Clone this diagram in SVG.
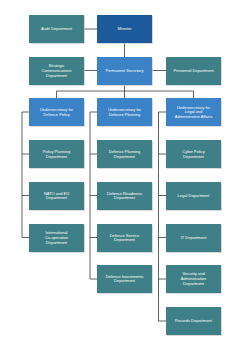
<svg xmlns="http://www.w3.org/2000/svg" width="250" height="354" viewBox="0 0 250 354">
<defs>
<style>
.b rect.s{fill:#c9c9c9;opacity:0.7}
.teal rect.m{fill:#3f7f87}
.dark rect.m{fill:#1d5a9c}
.blue rect.m{fill:#3b82c6}
text{font-family:"Liberation Sans",Arial,sans-serif;font-size:4px;fill:#ffffff;text-anchor:middle}
.c{fill:none;stroke:#3a3a3a;stroke-width:0.8}
</style>
</defs>
<rect width="250" height="354" fill="#ffffff"/>
<g id="connectors" class="c">
<path d="M84 29H97"/>
<path d="M124.5 43V57"/>
<path d="M84 70.5H97M152 70.5H166"/>
<path d="M124.5 84.5V91M56.5 98V91H193.5V98M124.5 91V98"/>
<path d="M29 112H22V237.5H29M22 154H29M22 195.5H29"/>
<path d="M97 112H90V279H97M90 154H97M90 195.5H97M90 237.5H97"/>
<path d="M166 112H158.5V321H166M158.5 154H166M158.5 195.5H166M158.5 237.5H166M158.5 279H166"/>
</g>
<g id="audit" class="b teal"><rect class="s" x="30" y="16" width="55" height="28"/><rect class="m" x="29" y="15" width="55" height="28"/><text x="56.5" y="30.4">Audit Department</text></g>
<g id="minister" class="b dark"><rect class="s" x="98" y="16" width="55" height="28"/><rect class="m" x="97" y="15" width="55" height="28"/><text x="124.5" y="30.4">Minister</text></g>
<g id="strategic" class="b teal"><rect class="s" x="30" y="58" width="55" height="28"/><rect class="m" x="29" y="57" width="55" height="28"/><text x="56.5" y="67.4">Strategic</text><text x="56.5" y="72.1">Communications</text><text x="56.5" y="76.8">Department</text></g>
<g id="permanent" class="b blue"><rect class="s" x="98" y="58" width="55" height="28"/><rect class="m" x="97" y="57" width="55" height="28"/><text x="124.5" y="72.4">Permanent Secretary</text></g>
<g id="personnel" class="b teal"><rect class="s" x="167" y="58" width="55" height="28"/><rect class="m" x="166" y="57" width="55" height="28"/><text x="193.5" y="72.4">Personnel Department</text></g>
<g id="under-policy" class="b blue"><rect class="s" x="30" y="99" width="55" height="28"/><rect class="m" x="29" y="98" width="55" height="28"/><text x="56.5" y="111">Undersecretary for</text><text x="56.5" y="115.7">Defence Policy</text></g>
<g id="under-planning" class="b blue"><rect class="s" x="98" y="99" width="55" height="28"/><rect class="m" x="97" y="98" width="55" height="28"/><text x="124.5" y="111">Undersecretary for</text><text x="124.5" y="115.7">Defence Planning</text></g>
<g id="under-legal" class="b blue"><rect class="s" x="167" y="99" width="55" height="28"/><rect class="m" x="166" y="98" width="55" height="28"/><text x="193.5" y="108.6">Undersecretary for</text><text x="193.5" y="113.3">Legal and</text><text x="193.5" y="118">Administrative Affairs</text></g>
<g id="policy-planning" class="b teal"><rect class="s" x="30" y="141" width="55" height="28"/><rect class="m" x="29" y="140" width="55" height="28"/><text x="56.5" y="153">Policy Planning</text><text x="56.5" y="157.7">Department</text></g>
<g id="defence-planning" class="b teal"><rect class="s" x="98" y="141" width="55" height="28"/><rect class="m" x="97" y="140" width="55" height="28"/><text x="124.5" y="153">Defence Planning</text><text x="124.5" y="157.7">Department</text></g>
<g id="cyber" class="b teal"><rect class="s" x="167" y="141" width="55" height="28"/><rect class="m" x="166" y="140" width="55" height="28"/><text x="193.5" y="153">Cyber Policy</text><text x="193.5" y="157.7">Department</text></g>
<g id="nato" class="b teal"><rect class="s" x="30" y="183" width="55" height="28"/><rect class="m" x="29" y="182" width="55" height="28"/><text x="56.5" y="194.6">NATO and EU</text><text x="56.5" y="199.3">Department</text></g>
<g id="readiness" class="b teal"><rect class="s" x="98" y="183" width="55" height="28"/><rect class="m" x="97" y="182" width="55" height="28"/><text x="124.5" y="194.6">Defence Readiness</text><text x="124.5" y="199.3">Department</text></g>
<g id="legal" class="b teal"><rect class="s" x="167" y="183" width="55" height="28"/><rect class="m" x="166" y="182" width="55" height="28"/><text x="193.5" y="197.3">Legal Department</text></g>
<g id="international" class="b teal"><rect class="s" x="30" y="225" width="55" height="28"/><rect class="m" x="29" y="224" width="55" height="28"/><text x="56.5" y="234.2">International</text><text x="56.5" y="238.9">Co-operation</text><text x="56.5" y="243.6">Department</text></g>
<g id="service" class="b teal"><rect class="s" x="98" y="225" width="55" height="28"/><rect class="m" x="97" y="224" width="55" height="28"/><text x="124.5" y="236.6">Defence Service</text><text x="124.5" y="241.3">Department</text></g>
<g id="it" class="b teal"><rect class="s" x="167" y="225" width="55" height="28"/><rect class="m" x="166" y="224" width="55" height="28"/><text x="193.5" y="239.3">IT Department</text></g>
<g id="investments" class="b teal"><rect class="s" x="98" y="266" width="55" height="28"/><rect class="m" x="97" y="265" width="55" height="28"/><text x="124.5" y="277.6">Defence Investments</text><text x="124.5" y="282.3">Department</text></g>
<g id="security" class="b teal"><rect class="s" x="167" y="266" width="55" height="28"/><rect class="m" x="166" y="265" width="55" height="28"/><text x="193.5" y="275.2">Security and</text><text x="193.5" y="279.9">Administration</text><text x="193.5" y="284.6">Department</text></g>
<g id="records" class="b teal"><rect class="s" x="167" y="308" width="55" height="28"/><rect class="m" x="166" y="307" width="55" height="28"/><text x="193.5" y="322.3">Records Department</text></g>
</svg>
